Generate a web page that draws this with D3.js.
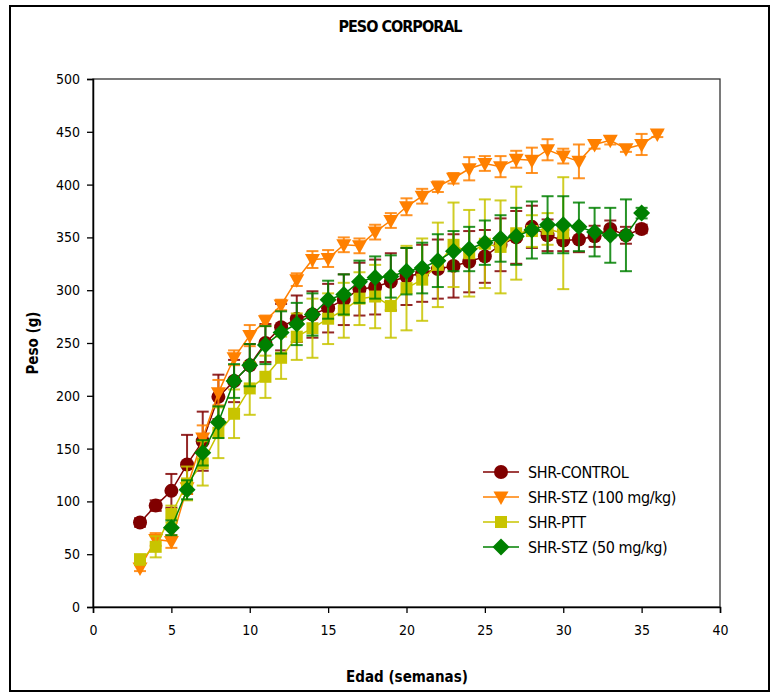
<!DOCTYPE html>
<html>
<head>
<meta charset="utf-8">
<script src="https://cdn.jsdelivr.net/npm/d3@7"></script>
<style>
  body { margin: 0; background: #fff; }
  svg text { font-family: "DejaVu Sans Condensed", "DejaVu Sans", sans-serif; fill: #000; }
</style>
</head>
<body>
<div id="chart"></div>
<script>
// Peso corporal

const weeks = [3, 4, 5, 6, 7, 8, 9, 10, 11, 12, 13, 14, 15, 16, 17, 18, 19, 20,
  21, 22, 23, 24, 25, 26, 27, 28, 29, 30, 31, 32, 33, 34, 35, 36];

const control = [80, 96, 110, 135, 157, 199, 214, 229, 250, 265, 273, 277, 283, 291, 301, 303, 308, 313,
  316, 320, 323, 327, 332, 343, 350, 360, 352, 347, 348, 351, 358, 352, 358, null];
const controlErr = [4, 5, 16, 28, 28, 21, 20, 20, 18, 22, 22, 22, 23, 24, 25, 26, 27, 27,
  27, 28, 30, 29, 25, 25, 25, 20, 15, 10, 12, 10, 8, 8, 4, null];

const stz100 = [37, 64, 62, 113, 160, 203, 236, 257, 271, 286, 310, 329, 330, 343, 342, 355, 366, 379,
  389, 398, 406, 415, 420, 417, 424, 423, 433, 427, 422, 438, 442, 434, 438, 448];
const stz100Err = [3, 6, 6, 6, 12, 12, 7, 10, 5, 5, 6, 8, 8, 7, 7, 7, 7, 8,
  7, 5, 5, 11, 7, 10, 8, 12, 10, 7, 16, 4, 4, 3, 10, 3];

const ptt = [45, 57, 88, 117, 136, 165, 183, 207, 218, 236, 256, 264, 273, 281, 292, 294, 285, 302,
  310, 324, 343, 335, 344, 341, 354, 356, 358, 354, null, null, null, null, null, null];
const pttErr = [5, 10, 8, 16, 21, 24, 23, 25, 20, 20, 22, 28, 24, 26, 25, 30, 30, 40,
  39, 40, 40, 41, 42, 44, 44, 15, 15, 53, null, null, null, null, null, null];

const stz50 = [null, null, 75, 111, 146, 175, 214, 229, 248, 260, 268, 277, 291, 296, 308, 312, 313, 318,
  321, 328, 337, 339, 345, 349, 351, 357, 362, 362, 360, 355, 352, 352, 373, null];
const stz50Err = [null, null, 7, 9, 12, 15, 16, 20, 18, 20, 20, 20, 18, 19, 20, 20, 20, 22,
  24, 25, 19, 21, 21, 22, 27, 27, 27, 27, 23, 23, 26, 34, 5, null];

const xTicks = [0, 5, 10, 15, 20, 25, 30, 35, 40];
const yTicks = [0, 50, 100, 150, 200, 250, 300, 350, 400, 450, 500];

const series = [
  { name: 'SHR-CONTROL', values: control, errors: controlErr, color: '#800000', shape: 'circle' },
  { name: 'SHR-STZ (100 mg/kg)', values: stz100, errors: stz100Err, color: '#ff8000', shape: 'triangleDown' },
  { name: 'SHR-PTT', values: ptt, errors: pttErr, color: '#c8c400', shape: 'square' },
  { name: 'SHR-STZ (50 mg/kg)', values: stz50, errors: stz50Err, color: '#008000', shape: 'diamond' },
];

const width = 775;
const height = 696;
const margin = { top: 79, right: 55, bottom: 89, left: 93 };

const svg = d3.select('#chart')
  .append('svg')
  .attr('width', width)
  .attr('height', height);

// outer frame
svg.append('rect')
  .attr('x', 10).attr('y', 6)
  .attr('width', 759).attr('height', 685)
  .attr('fill', 'none')
  .attr('stroke', '#000')
  .attr('stroke-width', 2);

const x = d3.scaleLinear().domain([0, 40]).range([margin.left, width - margin.right]);
const y = d3.scaleLinear().domain([0, 500]).range([height - margin.bottom, margin.top]);

// plot area border
svg.append('rect')
  .attr('x', x(0)).attr('y', y(500))
  .attr('width', x(40) - x(0)).attr('height', y(0) - y(500))
  .attr('fill', 'none')
  .attr('stroke', '#333')
  .attr('stroke-width', 1.3);

// axes
const xAxis = svg.append('g')
  .attr('transform', `translate(0,${y(0)})`)
  .call(d3.axisBottom(x).tickValues(xTicks).tickSize(6).tickPadding(12));
const yAxis = svg.append('g')
  .attr('transform', `translate(${x(0)},0)`)
  .call(d3.axisLeft(y).tickValues(yTicks).tickSize(6).tickPadding(7));

[xAxis, yAxis].forEach(ax => {
  ax.select('.domain').attr('stroke', '#000').attr('stroke-width', 1.5);
  ax.selectAll('.tick line').attr('stroke', '#000').attr('stroke-width', 1.3);
  ax.selectAll('.tick text')
    .style('font-family', '"DejaVu Sans Condensed", sans-serif')
    .style('font-size', '14px')
    .attr('fill', '#000');
});

// titles
svg.append('text')
  .attr('x', 400).attr('y', 32)
  .attr('text-anchor', 'middle')
  .style('font-weight', 'bold')
  .style('font-size', '16px')
  .style('letter-spacing', '-1px')
  .text('PESO CORPORAL');

svg.append('text')
  .attr('x', 407).attr('y', 682)
  .attr('text-anchor', 'middle')
  .style('font-weight', 'bold')
  .style('font-size', '15px')
  .text('Edad (semanas)');

svg.append('text')
  .attr('transform', `translate(38,${(y(0) + y(500)) / 2}) rotate(-90)`)
  .attr('text-anchor', 'middle')
  .style('font-weight', 'bold')
  .style('font-size', '15px')
  .text('Peso (g)');

function drawMarker(g, s, cx, cy) {
  let d;
  if (s.shape === 'triangleDown') {
    d = `M${cx - 7.5},${cy - 5.5}L${cx + 7.5},${cy - 5.5}L${cx},${cy + 8}Z`;
  } else if (s.shape === 'diamond') {
    d = `M${cx},${cy - 8.5}L${cx + 8.5},${cy}L${cx},${cy + 8.5}L${cx - 8.5},${cy}Z`;
  } else if (s.shape === 'square') {
    d = `M${cx - 6},${cy - 6}h12v12h-12Z`;
  } else {
    g.append('circle').attr('cx', cx).attr('cy', cy).attr('r', 7).attr('fill', s.color);
    return;
  }
  g.append('path').attr('d', d).attr('fill', s.color);
}

const line = d3.line()
  .defined(d => d.v !== null)
  .x(d => x(d.w))
  .y(d => y(d.v));

series.forEach(s => {
  const pts = weeks.map((w, i) => ({ w, v: s.values[i], e: s.errors[i] }));
  const g = svg.append('g');

  // error bars
  const cap = 6;
  pts.filter(d => d.v !== null && d.e).forEach(d => {
    const cx = x(d.w);
    const top = y(d.v + d.e);
    const bot = y(d.v - d.e);
    g.append('line').attr('x1', cx).attr('x2', cx).attr('y1', top).attr('y2', bot);
    g.append('line').attr('x1', cx - cap).attr('x2', cx + cap).attr('y1', top).attr('y2', top);
    g.append('line').attr('x1', cx - cap).attr('x2', cx + cap).attr('y1', bot).attr('y2', bot);
  });
  g.selectAll('line')
    .attr('stroke', s.color)
    .attr('stroke-width', 2)
    .attr('stroke-opacity', 0.85);

  g.append('path')
    .datum(pts.filter(d => d.v !== null))
    .attr('d', line)
    .attr('fill', 'none')
    .attr('stroke', s.color)
    .attr('stroke-width', 1.5);

  pts.filter(d => d.v !== null).forEach(d => drawMarker(g, s, x(d.w), y(d.v)));
});

// legend
const legend = svg.append('g');
series.forEach((s, i) => {
  const ly = 472 + i * 25;
  const row = legend.append('g');
  row.append('line')
    .attr('x1', 483).attr('x2', 519)
    .attr('y1', ly).attr('y2', ly)
    .attr('stroke', s.color)
    .attr('stroke-width', 1.5);
  drawMarker(row, s, 501, ly);
  row.append('text')
    .attr('x', 528).attr('y', ly + 6)
    .style('font-size', '16px')
    .style('letter-spacing', '-0.4px')
    .text(s.name);
});
</script>
</body>
</html>
